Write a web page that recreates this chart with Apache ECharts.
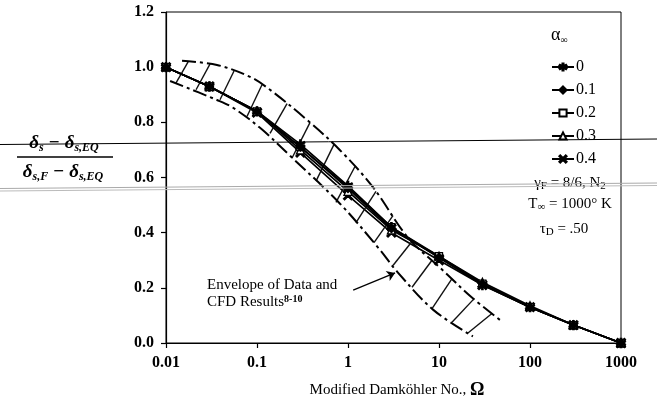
<!DOCTYPE html>
<html><head><meta charset="utf-8">
<script src="https://cdn.jsdelivr.net/npm/echarts@6/dist/echarts.min.js"></script>
<style>html,body{margin:0;padding:0;background:#fff}#c{width:657px;height:402px}</style>
</head><body><div id="c"></div>
<script>
// ---- data ----
const xTickLabels = ['0.01', '0.1', '1', '10', '100', '1000'];
const yTickLabels = ['0.0', '0.2', '0.4', '0.6', '0.8', '1.0', '1.2'];
const omega = [0.01, 0.03, 0.1, 0.3, 1, 3, 10, 30, 100, 300, 1000];
const seriesNames = ['0', '0.1', '0.2', '0.3', '0.4'];
const alpha00 = [1.0, 0.93, 0.84, 0.72, 0.57, 0.42, 0.31, 0.21, 0.13, 0.065, 0.0];
const alpha01 = [1.0, 0.93, 0.84, 0.71, 0.56, 0.415, 0.31, 0.215, 0.13, 0.065, 0.0];
const alpha02 = [1.0, 0.93, 0.84, 0.71, 0.565, 0.42, 0.315, 0.215, 0.13, 0.065, 0.0];
const alpha03 = [1.0, 0.93, 0.84, 0.70, 0.55, 0.41, 0.315, 0.22, 0.135, 0.065, 0.0];
const alpha04 = [1.0, 0.93, 0.835, 0.69, 0.535, 0.40, 0.30, 0.21, 0.13, 0.065, 0.0];

const envUpperX = [0.015, 0.0363, 0.0838, 0.139, 0.354, 0.817, 1.88, 4.56, 10.26, 23.0, 49.2];
const envUpperY = [1.023, 1.008, 0.965, 0.918, 0.809, 0.699, 0.565, 0.382, 0.273, 0.165, 0.078];
const envLowerX = [0.0111, 0.0363, 0.0545, 0.108, 0.2305, 0.817, 2.14, 3.46, 8.59, 23.6];
const envLowerY = [0.950, 0.881, 0.853, 0.780, 0.679, 0.505, 0.346, 0.259, 0.121, 0.024];

const hatchLowX  = [0.0129, 0.0214, 0.0392, 0.0776, 0.139, 0.242, 0.445, 0.738, 1.224, 1.93, 3.12, 5.05, 8.38, 13.9, 20.8];
const hatchLowY  = [0.943, 0.918, 0.882, 0.821, 0.760, 0.670, 0.587, 0.510, 0.436, 0.364, 0.281, 0.202, 0.125, 0.075, 0.036];
const hatchHighX = [0.0175, 0.0305, 0.0559, 0.1135, 0.214, 0.382, 0.702, 1.194, 2.03, 3.12, 5.05, 8.38, 13.9, 24.2, 38.2];
const hatchHighY = [1.019, 1.012, 0.986, 0.936, 0.868, 0.799, 0.720, 0.640, 0.550, 0.462, 0.368, 0.300, 0.233, 0.160, 0.107];

const arrowFrom = [1.14, 0.192];
const arrowTo = [3.29, 0.254];

// ---- symbols ----
const asterisk = 'path://M4.3,0L5.7,0L5.7,10L4.3,10Z M0.32,3.11L1.02,1.89L9.68,6.89L8.98,8.11Z M0.32,6.89L8.98,1.89L9.68,3.11L1.02,8.11Z';
const cross = 'path://M0.434,1.566L1.566,0.434L9.566,8.434L8.434,9.566Z M0.434,8.434L8.434,0.434L9.566,1.566L1.566,9.566Z';

const serif = '"Liberation Serif", "DejaVu Serif", serif';
const allAlpha = [alpha00, alpha01, alpha02, alpha03, alpha04];
const symbolDefs = [
  {symbol: asterisk, size: 9, fill: '#000'},
  {symbol: 'diamond', size: 8, fill: '#000'},
  {symbol: 'rect', size: 7, fill: '#fff'},
  {symbol: 'triangle', size: 8, fill: '#fff'},
  {symbol: cross, size: 9, fill: '#000'}
];

const mainSeries = seriesNames.map((nm, k) => ({
  name: nm,
  type: 'line',
  data: omega.map((x, i) => [x, allAlpha[k][i]]),
  symbol: symbolDefs[k].symbol,
  symbolSize: symbolDefs[k].size,
  showAllSymbol: true,
  itemStyle: {color: symbolDefs[k].fill, borderColor: '#000', borderWidth: 1.3},
  lineStyle: {color: '#000', width: 1.7},
  z: 5 - k,
  animation: false
}));

const envStyle = {color: '#000', width: 2, type: [14, 4, 3, 4]};
const envSeries = [
  {type: 'line', data: envUpperX.map((x, i) => [x, envUpperY[i]]), smooth: 0.35, showSymbol: false,
   lineStyle: envStyle, silent: true, animation: false, z: 3},
  {type: 'line', data: envLowerX.map((x, i) => [x, envLowerY[i]]), smooth: 0.35, showSymbol: false,
   lineStyle: envStyle, silent: true, animation: false, z: 3},
  {type: 'lines', coordinateSystem: 'cartesian2d', silent: true, animation: false, z: 3,
   lineStyle: {color: '#111', width: 1.4, opacity: 1},
   data: hatchLowX.map((x, i) => ({coords: [[x, hatchLowY[i]], [hatchHighX[i], hatchHighY[i]]]}))},
  {type: 'lines', coordinateSystem: 'cartesian2d', silent: true, animation: false, z: 3,
   symbol: ['none', 'arrow'], symbolSize: 8,
   lineStyle: {color: '#000', width: 1.3, opacity: 1},
   data: [{coords: [arrowFrom, arrowTo]}]}
];

const chart = echarts.init(document.getElementById('c'), null, {renderer: 'canvas'});

const sub = {fontFamily: serif, fontSize: 11, verticalAlign: 'bottom', fill: '#000'};
const fracBase = {fontFamily: serif, fontSize: 19, fontStyle: 'italic', fontWeight: 'bold', lineHeight: 22};
const fracSub = {fontFamily: serif, fontSize: 12, fontStyle: 'italic', fontWeight: 'bold', verticalAlign: 'bottom'};

chart.setOption({
  animation: false,
  backgroundColor: '#fff',
  grid: {left: 166, right: 36, top: 12, bottom: 59, show: true, borderColor: '#000', borderWidth: 1},
  xAxis: {
    type: 'log', logBase: 10, min: 0.01, max: 1000,
    axisLine: {show: true, onZero: false, lineStyle: {color: '#000', width: 1.2}},
    axisTick: {show: true, inside: false, length: 5, lineStyle: {color: '#000', width: 1.2}},
    minorTick: {show: false},
    splitLine: {show: false},
    axisLabel: {
      margin: 12, color: '#000', fontFamily: serif, fontSize: 16, fontWeight: 'bold',
      formatter: v => xTickLabels.find(l => Math.abs(Math.log10(Number(l)) - Math.log10(v)) < 0.01) || ''
    }
  },
  yAxis: {
    type: 'value', min: 0, max: 1.2, interval: 0.2,
    axisLine: {show: true, lineStyle: {color: '#000', width: 1.2}},
    axisTick: {show: true, inside: false, length: 5, lineStyle: {color: '#000', width: 1.2}},
    splitLine: {show: false},
    axisLabel: {
      margin: 12, color: '#000', fontFamily: serif, fontSize: 16, fontWeight: 'bold',
      formatter: v => yTickLabels[Math.round(v / 0.2)]
    }
  },
  legend: {
    data: seriesNames,
    orient: 'vertical',
    left: 546, top: 54,
    itemWidth: 22, itemHeight: 9, itemGap: 7,
    textStyle: {fontFamily: serif, fontSize: 16, color: '#000', lineHeight: 16, padding: [0, 0, 0, -3]},
    inactiveColor: '#000'
  },
  series: mainSeries.concat(envSeries),
  graphic: [
    // legend header
    {type: 'text', left: 551, top: 26, style: {
      text: '{a|α}{s|∞}', rich: {a: {fontFamily: serif, fontSize: 18, lineHeight: 20}, s: {fontFamily: serif, fontSize: 10, verticalAlign: 'bottom'}}}},
    // right notes
    {type: 'text', x: 570, y: 183, style: {
      text: '{b|γ}{s|F}{b| = 8/6, N}{s|2}', align: 'center', verticalAlign: 'middle',
      rich: {b: {fontFamily: serif, fontSize: 15, lineHeight: 18}, s: sub}}},
    {type: 'text', x: 570, y: 204, style: {
      text: '{b|T}{s|∞}{b| = 1000° K}', align: 'center', verticalAlign: 'middle',
      rich: {b: {fontFamily: serif, fontSize: 15, lineHeight: 18}, s: sub}}},
    {type: 'text', x: 564, y: 229, style: {
      text: '{b|τ}{s|D}{b| = .50}', align: 'center', verticalAlign: 'middle',
      rich: {b: {fontFamily: serif, fontSize: 15, lineHeight: 18}, s: sub}}},
    // envelope annotation
    {type: 'text', left: 207, top: 278, style: {
      text: '{b|Envelope of Data and}\n{b|CFD Results}{p|8-10}',
      rich: {b: {fontFamily: serif, fontSize: 15, lineHeight: 17}, p: {fontFamily: serif, fontSize: 10, fontWeight: 'bold', verticalAlign: 'top'}}}},
    // x axis title
    {type: 'text', x: 397, y: 390, style: {
      text: '{b|Modified Damköhler No., }{o|Ω}', align: 'center', verticalAlign: 'middle',
      rich: {b: {fontFamily: serif, fontSize: 15, lineHeight: 20}, o: {fontFamily: serif, fontSize: 18, fontWeight: 'bold', lineHeight: 20}}}},
    // y axis title (fraction)
    {type: 'text', x: 64, y: 143, style: {
      text: '{d|δ}{s|s}{d| − δ}{s|s,EQ}', align: 'center', verticalAlign: 'middle',
      rich: {d: fracBase, s: fracSub}}},
    {type: 'line', shape: {x1: 17, y1: 157, x2: 113, y2: 157}, style: {stroke: '#000', lineWidth: 1.5}},
    {type: 'text', x: 63, y: 172, style: {
      text: '{d|δ}{s|s,F}{d| − δ}{s|s,EQ}', align: 'center', verticalAlign: 'middle',
      rich: {d: fracBase, s: fracSub}}},
    // scan artefact lines crossing the page
    {type: 'line', shape: {x1: 0, y1: 144.5, x2: 657, y2: 139}, style: {stroke: '#000', lineWidth: 1}, z: 10},
    {type: 'line', shape: {x1: 0, y1: 188.5, x2: 657, y2: 183}, style: {stroke: '#aaa', lineWidth: 1.2}, z: 10},
    {type: 'line', shape: {x1: 0, y1: 191, x2: 657, y2: 185.5}, style: {stroke: '#bbb', lineWidth: 1.2}, z: 10}
  ]
});
</script>
</body></html>
